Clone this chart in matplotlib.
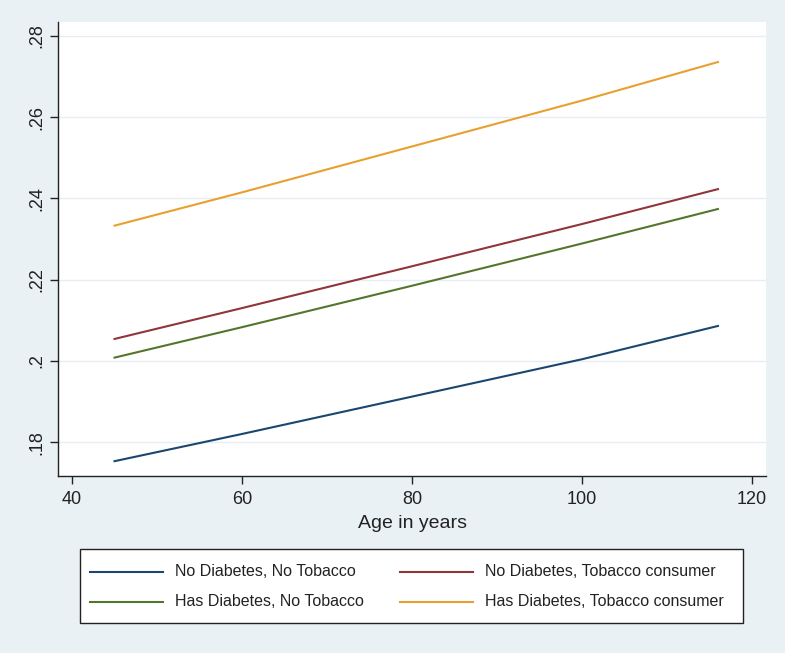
import matplotlib
matplotlib.use("Agg")
import matplotlib.pyplot as plt
from matplotlib.patches import Rectangle
from matplotlib.lines import Line2D

plt.rcParams['font.family'] = ['Liberation Sans', 'DejaVu Sans']

ages = [45, 60, 80, 100, 116]
no_diab_no_tob = [0.1753, 0.1820, 0.1912, 0.2004, 0.2086]
no_diab_tob = [0.2054, 0.2130, 0.2233, 0.2337, 0.2423]
diab_no_tob = [0.2008, 0.2083, 0.2185, 0.2289, 0.2374]
diab_tob = [0.2333, 0.2415, 0.2528, 0.2641, 0.2736]

labels = ["No Diabetes, No Tobacco", "No Diabetes, Tobacco consumer",
          "Has Diabetes, No Tobacco", "Has Diabetes, Tobacco consumer"]
xticks = [40, 60, 80, 100, 120]
yticks = [0.18, 0.20, 0.22, 0.24, 0.26, 0.28]
ytick_labels = [".18", ".2", ".22", ".24", ".26", ".28"]

W, H = 787, 656
fig = plt.figure(figsize=(W / 100, H / 100), dpi=100, facecolor='white')
fig.patches.append(Rectangle((0, 3 / H), 785 / W, 1 - 3 / H, transform=fig.transFigure,
                             facecolor='#eaf1f4', edgecolor='none', zorder=-10))

ax = fig.add_axes([58 / W, 1 - 476 / H, (766 - 58) / W, (476 - 22) / H])
ax.set_facecolor('white')

c_blue = '#1a476f'
c_red = '#90353b'
c_green = '#55752f'
c_orange = '#e8a030'
colors = [c_blue, c_red, c_green, c_orange]

ax.plot(ages, no_diab_no_tob, color=c_blue, lw=1.5)
ax.plot(ages, no_diab_tob, color=c_red, lw=1.5)
ax.plot(ages, diab_no_tob, color=c_green, lw=1.5)
ax.plot(ages, diab_tob, color=c_orange, lw=1.5)

ax.set_xlim(38.35, 121.65)
ax.set_ylim(0.17165, 0.28345)
ax.set_xticks(xticks)
ax.set_yticks(yticks)
ax.set_yticklabels(ytick_labels, rotation=90, va='center')
ax.tick_params(axis='both', labelsize=13, length=6, width=1, color='#222222', labelcolor='#222222')
ax.tick_params(axis='y', pad=3)
ax.tick_params(axis='x', pad=5)
for s in ['top', 'right']:
    ax.spines[s].set_visible(False)
for s in ['left', 'bottom']:
    ax.spines[s].set_color('#222222')
    ax.spines[s].set_linewidth(1)
ax.yaxis.grid(True, color='#e6eef1', lw=1)
ax.set_axisbelow(True)
ax.set_xlabel("Age in years", fontsize=14, color='#222222', labelpad=5)

# Legend box (Stata style), drawn in figure pixel coordinates
def fx(px):
    return px / W

def fy(py):
    return 1 - py / H

fig.patches.append(Rectangle((fx(80), fy(623)), fx(743) - fx(80), fy(549) - fy(623),
                             transform=fig.transFigure, facecolor='white',
                             edgecolor='#222222', lw=1, zorder=5))
slots = [(90, 572), (400, 572), (90, 602), (400, 602)]
for (x0, y0), lab, col in zip(slots, labels, colors):
    fig.add_artist(Line2D([fx(x0), fx(x0 + 73)], [fy(y0), fy(y0)], color=col, lw=1.5,
                          transform=fig.transFigure, zorder=6))
    fig.text(fx(x0 + 85), fy(y0), lab, fontsize=11.5, color='#222222', va='center',
             ha='left', zorder=6)

fig.savefig("out.png", dpi=100, facecolor=fig.get_facecolor())
